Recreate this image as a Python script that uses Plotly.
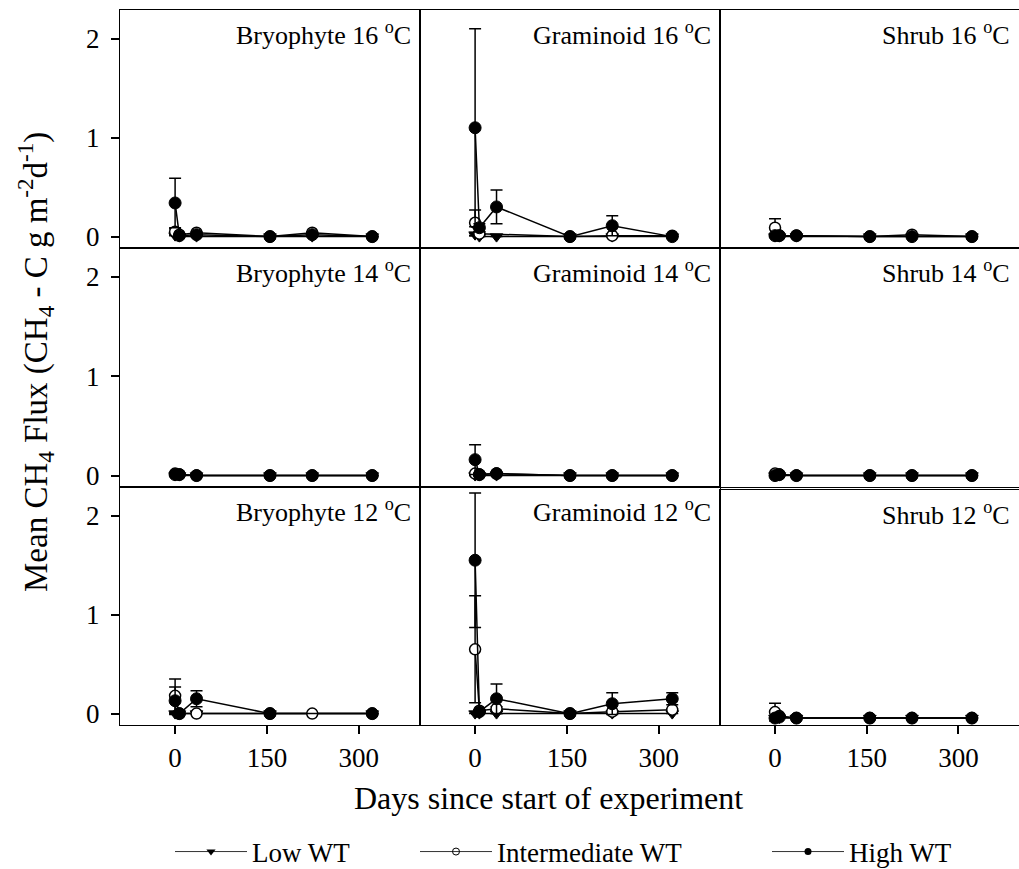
import plotly.graph_objects as go
from plotly.subplots import make_subplots

# ---------------- data ----------------
DAYS = [0, 7, 35, 155, 224, 322]
X_TICKS = [0, 150, 300]
Y_TICKS = [0, 1, 2]
SERIES_NAMES = ["Low WT", "Intermediate WT", "High WT"]
PLANTS = ["Bryophyte", "Graminoid", "Shrub"]
TEMPS = ["16", "14", "12"]

# 16 °C
BRY16_LOW = [0.01, 0.00, 0.00, 0.00, 0.00, 0.00]
BRY16_LOW_SE = [0.00, 0.00, 0.00, 0.00, 0.00, 0.00]
BRY16_INT = [0.05, 0.02, 0.04, 0.00, 0.04, 0.00]
BRY16_INT_SE = [0.03, 0.01, 0.01, 0.00, 0.01, 0.00]
BRY16_HIGH = [0.34, 0.01, 0.02, 0.00, 0.02, 0.00]
BRY16_HIGH_SE = [0.25, 0.01, 0.01, 0.00, 0.01, 0.00]

GRA16_LOW = [0.02, 0.00, 0.00, 0.00, 0.00, 0.00]
GRA16_LOW_SE = [0.01, 0.00, 0.00, 0.00, 0.00, 0.00]
GRA16_INT = [0.14, 0.03, None, 0.00, 0.01, 0.01]
GRA16_INT_SE = [0.13, 0.02, None, 0.00, 0.01, 0.01]
GRA16_HIGH = [1.10, 0.09, 0.30, 0.00, 0.11, 0.00]
GRA16_HIGH_SE = [1.00, 0.04, 0.17, 0.00, 0.10, 0.00]

SHR16_LOW = [0.00, 0.00, 0.00, 0.00, 0.00, 0.00]
SHR16_LOW_SE = [0.00, 0.00, 0.00, 0.00, 0.00, 0.00]
SHR16_INT = [0.09, 0.01, 0.01, 0.00, 0.02, 0.00]
SHR16_INT_SE = [0.09, 0.01, 0.00, 0.00, 0.01, 0.00]
SHR16_HIGH = [0.01, 0.01, 0.01, 0.00, 0.00, 0.00]
SHR16_HIGH_SE = [0.00, 0.00, 0.00, 0.00, 0.00, 0.00]

# 14 °C
BRY14_LOW = [0.00, 0.00, 0.00, 0.00, 0.00, 0.00]
BRY14_LOW_SE = [0.00, 0.00, 0.00, 0.00, 0.00, 0.00]
BRY14_INT = [0.02, 0.01, 0.00, 0.00, 0.00, 0.00]
BRY14_INT_SE = [0.01, 0.00, 0.00, 0.00, 0.00, 0.00]
BRY14_HIGH = [0.01, 0.01, 0.00, 0.00, 0.00, 0.00]
BRY14_HIGH_SE = [0.00, 0.00, 0.00, 0.00, 0.00, 0.00]

GRA14_LOW = [0.00, 0.00, 0.00, 0.00, 0.00, 0.00]
GRA14_LOW_SE = [0.00, 0.00, 0.00, 0.00, 0.00, 0.00]
GRA14_INT = [0.02, 0.01, 0.02, 0.00, 0.00, 0.00]
GRA14_INT_SE = [0.01, 0.00, 0.01, 0.00, 0.00, 0.00]
GRA14_HIGH = [0.16, 0.01, 0.02, 0.00, 0.00, 0.00]
GRA14_HIGH_SE = [0.15, 0.01, 0.01, 0.00, 0.00, 0.00]

SHR14_LOW = [0.00, 0.00, 0.00, 0.00, 0.00, 0.00]
SHR14_LOW_SE = [0.00, 0.00, 0.00, 0.00, 0.00, 0.00]
SHR14_INT = [0.02, 0.01, 0.00, 0.00, 0.00, 0.00]
SHR14_INT_SE = [0.01, 0.00, 0.00, 0.00, 0.00, 0.00]
SHR14_HIGH = [0.00, 0.01, 0.00, 0.00, 0.00, 0.00]
SHR14_HIGH_SE = [0.00, 0.00, 0.00, 0.00, 0.00, 0.00]

# 12 °C
BRY12_LOW = [0.00, 0.00, 0.00, 0.00, None, 0.00]
BRY12_LOW_SE = [0.00, 0.00, 0.00, 0.00, None, 0.00]
BRY12_INT = [0.18, 0.00, 0.00, 0.00, 0.00, 0.00]
BRY12_INT_SE = [0.17, 0.00, 0.00, 0.00, 0.00, 0.00]
BRY12_HIGH = [0.13, 0.00, 0.15, 0.00, None, 0.00]
BRY12_HIGH_SE = [0.14, 0.00, 0.08, 0.00, None, 0.00]

GRA12_LOW = [0.00, 0.00, 0.00, 0.00, 0.00, 0.00]
GRA12_LOW_SE = [0.00, 0.00, 0.00, 0.00, 0.00, 0.00]
GRA12_INT = [0.65, 0.03, 0.05, 0.00, 0.02, 0.04]
GRA12_INT_SE = [0.54, 0.01, 0.02, 0.00, 0.01, 0.01]
GRA12_HIGH = [1.55, 0.02, 0.15, 0.00, 0.10, 0.15]
GRA12_HIGH_SE = [0.68, 0.01, 0.15, 0.00, 0.11, 0.06]

SHR12_LOW = [0.00, 0.00, 0.00, 0.00, 0.00, 0.00]
SHR12_LOW_SE = [0.00, 0.00, 0.00, 0.00, 0.00, 0.00]
SHR12_INT = [0.06, 0.02, 0.00, 0.00, 0.00, 0.00]
SHR12_INT_SE = [0.09, 0.01, 0.00, 0.00, 0.00, 0.00]
SHR12_HIGH = [0.00, 0.01, 0.00, 0.00, 0.00, 0.00]
SHR12_HIGH_SE = [0.00, 0.00, 0.00, 0.00, 0.00, 0.00]

PANELS = [
    [(BRY16_LOW, BRY16_LOW_SE, BRY16_INT, BRY16_INT_SE, BRY16_HIGH, BRY16_HIGH_SE),
     (GRA16_LOW, GRA16_LOW_SE, GRA16_INT, GRA16_INT_SE, GRA16_HIGH, GRA16_HIGH_SE),
     (SHR16_LOW, SHR16_LOW_SE, SHR16_INT, SHR16_INT_SE, SHR16_HIGH, SHR16_HIGH_SE)],
    [(BRY14_LOW, BRY14_LOW_SE, BRY14_INT, BRY14_INT_SE, BRY14_HIGH, BRY14_HIGH_SE),
     (GRA14_LOW, GRA14_LOW_SE, GRA14_INT, GRA14_INT_SE, GRA14_HIGH, GRA14_HIGH_SE),
     (SHR14_LOW, SHR14_LOW_SE, SHR14_INT, SHR14_INT_SE, SHR14_HIGH, SHR14_HIGH_SE)],
    [(BRY12_LOW, BRY12_LOW_SE, BRY12_INT, BRY12_INT_SE, BRY12_HIGH, BRY12_HIGH_SE),
     (GRA12_LOW, GRA12_LOW_SE, GRA12_INT, GRA12_INT_SE, GRA12_HIGH, GRA12_HIGH_SE),
     (SHR12_LOW, SHR12_LOW_SE, SHR12_INT, SHR12_INT_SE, SHR12_HIGH, SHR12_HIGH_SE)],
]

# ---------------- styling ----------------
FONT = "Liberation Serif, Times New Roman, serif"
W, H = 1019, 869
ML, MR, MT, MB = 120, 0, 10, 144
PW, PH = W - ML - MR, H - MT - MB

MARKERS = {
    "Low WT": dict(symbol="triangle-down", size=11, color="black",
                   line=dict(color="black", width=1)),
    "Intermediate WT": dict(symbol="circle", size=11, color="white",
                            line=dict(color="black", width=1.5)),
    "High WT": dict(symbol="circle", size=12, color="black",
                    line=dict(color="black", width=1)),
}
LEG_MARKERS = {
    "Low WT": dict(symbol="triangle-down", size=8, color="black"),
    "Intermediate WT": dict(symbol="circle-open", size=7, color="black",
                            line=dict(width=1)),
    "High WT": dict(symbol="circle", size=7, color="black"),
}

fig = make_subplots(rows=3, cols=3, horizontal_spacing=0, vertical_spacing=0)

col_px = [(120, 420), (420, 720), (720, 1019)]
row_px = [(10, 248), (248, 487), (487, 725)]


def dom_x(a, b):
    return [(a - ML) / PW, (b - ML) / PW]


def dom_y(top, bot):
    return [(H - MB - bot) / PH, (H - MB - top) / PH]


for r in range(3):
    for c in range(3):
        low, low_se, inter, inter_se, high, high_se = PANELS[r][c]
        for name, ys, se in [("Low WT", low, low_se),
                             ("Intermediate WT", inter, inter_se),
                             ("High WT", high, high_se)]:
            fig.add_trace(go.Scatter(
                x=DAYS, y=ys, mode="lines+markers", name=name,
                showlegend=False, connectgaps=True,
                line=dict(color="black", width=1.5),
                marker=MARKERS[name],
                error_y=dict(type="data", array=se, visible=True,
                             color="black", thickness=1.5, width=6),
            ), row=r + 1, col=c + 1)

        idx = r * 3 + c + 1
        xname = "xaxis" if idx == 1 else f"xaxis{idx}"
        yname = "yaxis" if idx == 1 else f"yaxis{idx}"
        top, bot = row_px[r]
        yrange = [-0.115, 2.29]
        if r == 2 and c == 2:
            top = 490
            yrange = [-0.07, 2.30]
        xr_right = 400 if c < 2 else 399
        fig.layout[xname].update(
            domain=dom_x(*col_px[c]), range=[-90, xr_right],
            showline=True, linecolor="black", linewidth=1.2, mirror=True,
            showgrid=False, zeroline=False,
            tickvals=X_TICKS, ticks="outside" if r == 2 else "",
            ticklen=8, tickwidth=1.5, tickcolor="black",
            showticklabels=(r == 2),
            tickfont=dict(family=FONT, size=27, color="black"),
        )
        fig.layout[yname].update(
            domain=dom_y(top, bot), range=yrange,
            showline=True, linecolor="black", linewidth=1.2,
            mirror=(c < 2),
            showgrid=False, zeroline=False,
            tickvals=Y_TICKS, ticks="outside" if c == 0 else "",
            ticklen=8, tickwidth=1.5, tickcolor="black",
            showticklabels=(c == 0), ticklabelstandoff=6,
            tickfont=dict(family=FONT, size=27, color="black"),
        )
        xref = "x" if idx == 1 else f"x{idx}"
        yref = "y" if idx == 1 else f"y{idx}"
        fig.add_annotation(
            x=1, y=1, xref=f"{xref} domain", yref=f"{yref} domain",
            xanchor="right", yanchor="top", xshift=-7, yshift=-5,
            text=f"{PLANTS[c]} {TEMPS[r]} <sup>o</sup>C", showarrow=False,
            font=dict(family=FONT, size=26, color="black"),
        )

# legend entries (one legend per series, placed like the reference)
legend_x = [(170 - ML) / PW, (415 - ML) / PW, (767 - ML) / PW]
for i, name in enumerate(SERIES_NAMES):
    lname = "legend" if i == 0 else f"legend{i + 1}"
    fig.add_trace(go.Scatter(
        x=[None], y=[None], mode="lines+markers", name=name,
        showlegend=True, legend=lname,
        line=dict(color="#333333", width=1), marker=LEG_MARKERS[name],
    ))
    fig.layout[lname] = dict(
        x=legend_x[i], y=(H - MB - 852) / PH, xanchor="left", yanchor="middle",
        orientation="h", itemwidth=72, bgcolor="rgba(0,0,0,0)",
        font=dict(family=FONT, size=27, color="black"),
    )

fig.add_annotation(
    x=(548 - ML) / PW, y=(H - MB - 798) / PH, xref="paper", yref="paper",
    text="Days since start of experiment", showarrow=False,
    xanchor="center", yanchor="middle",
    font=dict(family=FONT, size=32, color="black"),
)
fig.add_annotation(
    x=(35 - ML) / PW, y=(H - MB - 362) / PH, xref="paper", yref="paper",
    text="Mean CH<sub>4</sub> Flux (CH<sub>4</sub> - C g m<sup>-2</sup>d<sup>-1</sup>)",
    showarrow=False, textangle=-90, xanchor="center", yanchor="middle",
    font=dict(family=FONT, size=33, color="black"),
)

fig.update_layout(
    width=W, height=H,
    margin=dict(l=ML, r=MR, t=MT, b=MB, autoexpand=False),
    paper_bgcolor="white", plot_bgcolor="white",
    font=dict(family=FONT, color="black"),
)

fig.write_html(
    "out.html",
    config={"displayModeBar": False},
    post_script="document.body.style.margin='0';document.body.style.overflow='hidden';",
)
